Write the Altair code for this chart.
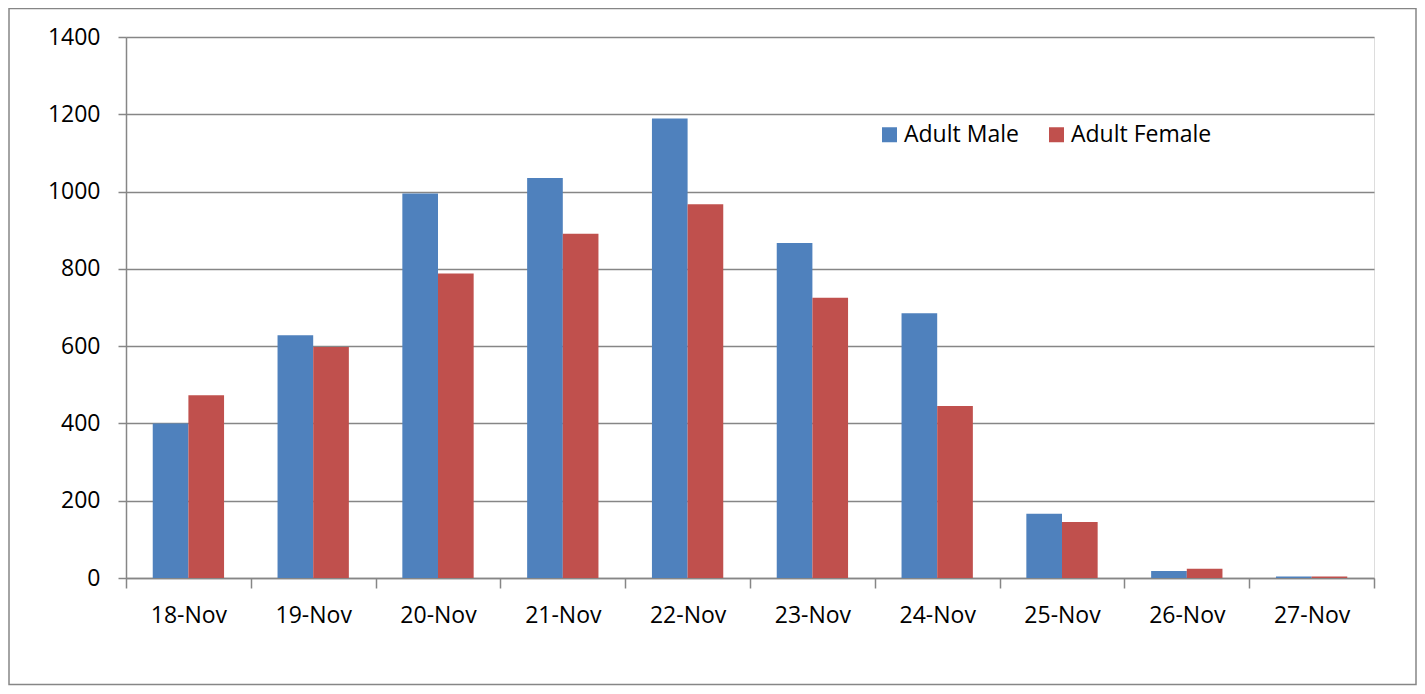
import altair as alt
import pandas as pd

dates = ["18-Nov", "19-Nov", "20-Nov", "21-Nov", "22-Nov",
         "23-Nov", "24-Nov", "25-Nov", "26-Nov", "27-Nov"]
series = ["Adult Male", "Adult Female"]
male = [400, 628, 995, 1035, 1189, 867, 685, 166, 18, 4]
female = [473, 598, 788, 891, 967, 725, 445, 145, 24, 4]
colors = ["#4F81BD", "#C0504D"]
y_ticks = [0, 200, 400, 600, 800, 1000, 1200, 1400]

rows = []
for d, m, f in zip(dates, male, female):
    rows.append({"date": d, "series": series[0], "value": m})
    rows.append({"date": d, "series": series[1], "value": f})
df = pd.DataFrame(rows)

FONT = "Open Sans"
GRAY = "#868686"
W, H = 1248, 541

bars = alt.Chart(df).mark_bar(stroke=None).encode(
    x=alt.X("date:N", sort=dates, title=None,
            scale=alt.Scale(paddingInner=0, paddingOuter=0),
            axis=alt.Axis(labelAngle=0, tickBand="extent", tickSize=10,
                          tickColor=GRAY, tickWidth=1.5,
                          domainColor=GRAY, domainWidth=1.5, labelPadding=16,
                          labelFont=FONT, labelFontSize=23, labelColor="#000000",
                          grid=False)),
    xOffset=alt.XOffset("series:N", sort=series,
                        scale=alt.Scale(paddingInner=0, paddingOuter=0.75)),
    y=alt.Y("value:Q", title=None,
            scale=alt.Scale(domain=[0, 1400], nice=False),
            axis=alt.Axis(values=y_ticks, format="d", tickSize=8,
                          tickColor=GRAY, tickWidth=1.5,
                          domainColor=GRAY, domainWidth=1.5,
                          gridColor=GRAY, gridWidth=1.5,
                          labelPadding=18, labelFont=FONT, labelFontSize=23,
                          labelColor="#000000")),
    color=alt.Color("series:N", sort=series, title=None,
                    scale=alt.Scale(domain=series, range=colors),
                    legend=alt.Legend(orient="none", direction="horizontal",
                                      legendX=752, legendY=86,
                                      symbolType="square", symbolSize=225,
                                      symbolStrokeWidth=0,
                                      labelFont=FONT, labelFontSize=23,
                                      labelColor="#000000", labelOffset=3,
                                      columnPadding=26, padding=0)),
)

border = alt.Chart(pd.DataFrame({"k": [0]})).mark_rect(
    fill=None, stroke=GRAY, strokeWidth=1.5
).encode(
    x=alt.value(-117), x2=alt.value(1290),
    y=alt.value(-28.5), y2=alt.value(647.5),
)

chart = alt.layer(bars, border).properties(
    width=W, height=H,
    padding={"left": 118, "top": 29, "right": 43, "bottom": 108},
    autosize=alt.AutoSizeParams(type="none"),
).configure_view(stroke=None).configure(background="white")

chart.save("out.html", embed_options={"renderer": "svg", "actions": False})
